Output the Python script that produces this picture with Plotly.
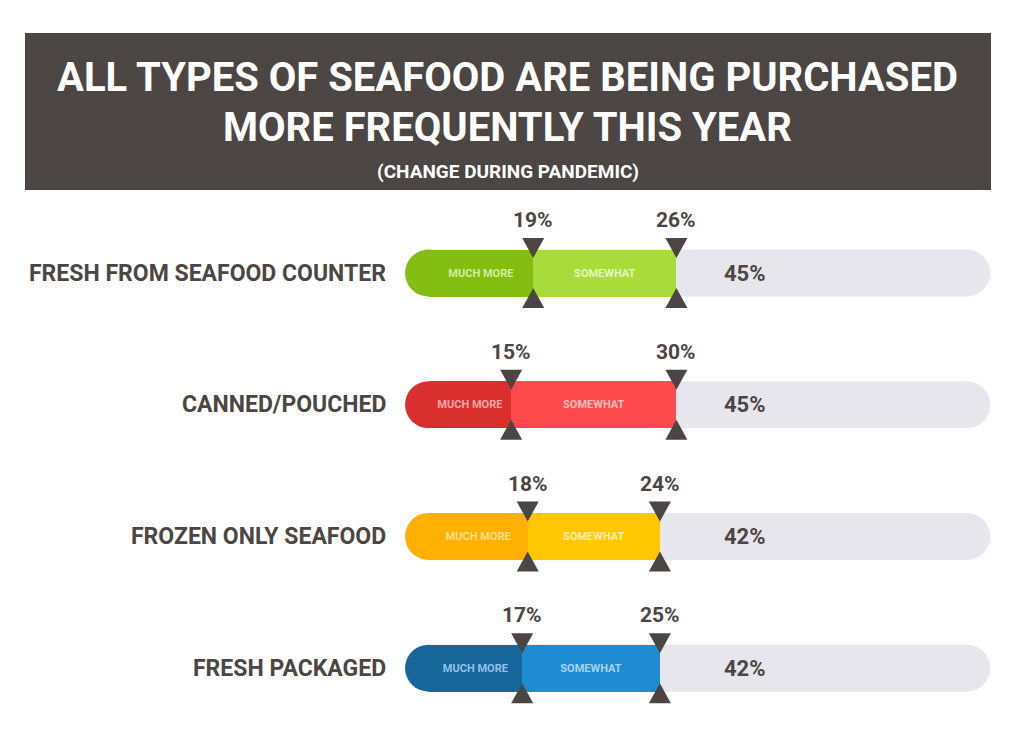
import plotly.graph_objects as go

categories = ['FRESH FROM SEAFOOD COUNTER', 'CANNED/POUCHED',
              'FROZEN ONLY SEAFOOD', 'FRESH PACKAGED']
much_more = [19, 15, 18, 17]
somewhat = [26, 30, 24, 25]
totals = [m + s for m, s in zip(much_more, somewhat)]

much_colors = ['#84bd12', '#d9302f', '#ffb000', '#17669b']
some_colors = ['#a9dc3b', '#ff4a4d', '#ffc700', '#1f8bd1']
much_text = ['#d2ee9c', '#f5a7a5', '#ffe08e', '#8fc4e8']
some_text = ['#e4f6bf', '#ffbdbd', '#ffeeb0', '#a8d3f0']

DARK = '#4b4643'
TRACK = '#e6e6ec'
FONT = 'Roboto, DejaVu Sans Condensed, sans-serif'

TRACK_END = 97.7
LABEL_X = 57.5
RADIUS = 23.5

rows = list(range(len(categories)))

fig = go.Figure()
fig.add_trace(go.Bar(
    y=rows, x=much_more, orientation='h', width=0.357,
    marker=dict(color=much_colors, line=dict(width=0)),
    text=['<b>MUCH MORE</b>'] * 4, textposition='inside', insidetextanchor='middle',
    textfont=dict(family=FONT, size=11, color=much_text), textangle=0,
    hoverinfo='skip'))
fig.add_trace(go.Bar(
    y=rows, x=somewhat, orientation='h', width=0.357,
    marker=dict(color=some_colors, line=dict(width=0)),
    text=['<b>SOMEWHAT</b>'] * 4, textposition='inside', insidetextanchor='middle',
    textfont=dict(family=FONT, size=11, color=some_text), textangle=0,
    hoverinfo='skip'))

shapes = []
annotations = []

# title banner
shapes.append(dict(type='rect', xref='paper', yref='paper',
                   x0=25 / 1024, x1=991 / 1024, y0=1 - 190 / 749, y1=1 - 33 / 749,
                   fillcolor=DARK, line=dict(width=0), layer='below'))
title_lines = [('<b>ALL TYPES OF SEAFOOD ARE BEING PURCHASED</b>', 77, 40),
               ('<b>MORE FREQUENTLY THIS YEAR</b>', 127, 40),
               ('<b>(CHANGE DURING PANDEMIC)</b>', 172, 19)]
for txt, ypx, size in title_lines:
    annotations.append(dict(xref='paper', yref='paper', x=0.496, y=1 - ypx / 749,
                            xanchor='center', yanchor='middle', text=txt,
                            showarrow=False, font=dict(family=FONT, size=size, color='white')))

for i in rows:
    # gray track with rounded right end
    shapes.append(dict(type='rect', x0=0, x1=TRACK_END, y0=i - 0.1785, y1=i + 0.1785,
                       fillcolor=TRACK, line=dict(width=0), layer='below'))
    shapes.append(dict(type='circle', xsizemode='pixel', ysizemode='pixel',
                       xanchor=TRACK_END, yanchor=i,
                       x0=-RADIUS, x1=RADIUS, y0=-RADIUS, y1=RADIUS,
                       fillcolor=TRACK, line=dict(width=0), layer='below'))
    # rounded left cap in the "much more" colour
    shapes.append(dict(type='circle', xsizemode='pixel', ysizemode='pixel',
                       xanchor=0, yanchor=i,
                       x0=-RADIUS, x1=RADIUS, y0=-RADIUS, y1=RADIUS,
                       fillcolor=much_colors[i], line=dict(width=0), layer='below'))

    for b, lab in [(much_more[i], much_more[i]), (totals[i], somewhat[i])]:
        shapes.append(dict(type='path', xsizemode='pixel', ysizemode='pixel',
                           xanchor=b, yanchor=i, path='M-11,35 L11,35 L0,15 Z',
                           fillcolor=DARK, line=dict(width=0), layer='above'))
        shapes.append(dict(type='path', xsizemode='pixel', ysizemode='pixel',
                           xanchor=b, yanchor=i, path='M-11,-35 L11,-35 L0,-15 Z',
                           fillcolor=DARK, line=dict(width=0), layer='above'))
        annotations.append(dict(x=b, y=i - 0.4, text='<b>%d%%</b>' % lab,
                                showarrow=False,
                                font=dict(family=FONT, size=21, color=DARK)))

    annotations.append(dict(x=LABEL_X, y=i, text='<b>%d%%</b>' % totals[i],
                            showarrow=False,
                            font=dict(family=FONT, size=22, color=DARK)))
    annotations.append(dict(x=-7.35, y=i, xanchor='right', text='<b>%s</b>' % categories[i],
                            showarrow=False,
                            font=dict(family=FONT, size=23, color=DARK)))

fig.update_layout(
    barmode='stack', width=1024, height=749,
    margin=dict(l=0, r=0, t=0, b=0),
    paper_bgcolor='white', plot_bgcolor='white',
    showlegend=False, shapes=shapes, annotations=annotations,
    uniformtext=dict(minsize=9, mode='show'),
    xaxis=dict(range=[-77.8, 108.1], visible=False, fixedrange=True),
    yaxis=dict(range=[3.614, -2.073], visible=False, fixedrange=True),
)

fig.write_html('out.html', config={'displayModeBar': False},
               post_script="document.body.style.margin='0px';")
